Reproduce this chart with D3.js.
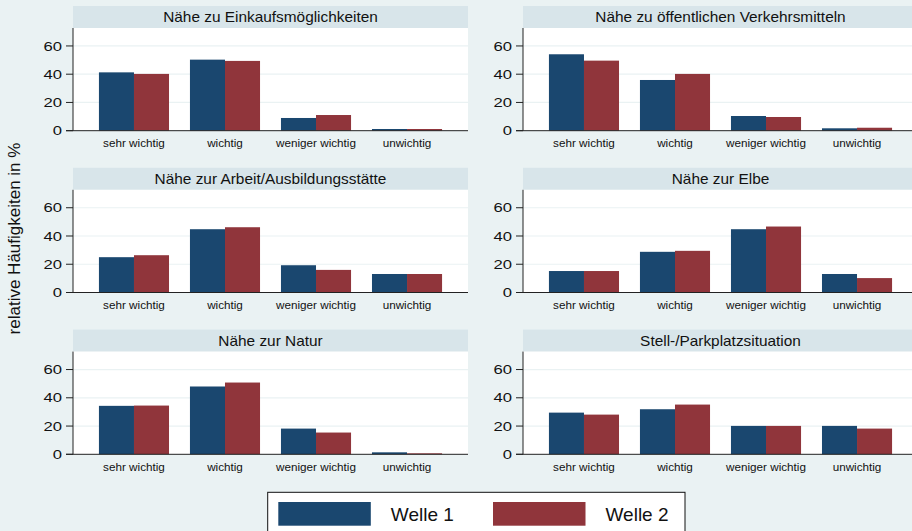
<!DOCTYPE html>
<html>
<head>
<meta charset="utf-8">
<script src="https://cdn.jsdelivr.net/npm/d3@7"></script>
<style>
  html, body { margin: 0; padding: 0; background: #eaf2f3; }
  svg { display: block; font-family: "Liberation Sans", Arial, sans-serif; }
</style>
</head>
<body>
<svg id="chart" width="912" height="531"></svg>
<script>
const categories = ["sehr wichtig", "wichtig", "weniger wichtig", "unwichtig"];
const seriesNames = ["Welle 1", "Welle 2"];
const panelTitles = [
  "Nähe zu Einkaufsmöglichkeiten",
  "Nähe zu öffentlichen Verkehrsmitteln",
  "Nähe zur Arbeit/Ausbildungsstätte",
  "Nähe zur Elbe",
  "Nähe zur Natur",
  "Stell-/Parkplatzsituation"
];
const welle1 = [
  [41.3, 50.3, 9.0, 1.2],
  [54.1, 35.9, 10.4, 1.7],
  [25.0, 44.8, 19.3, 13.1],
  [15.2, 28.8, 44.8, 13.1],
  [34.3, 48.0, 18.2, 1.4],
  [29.5, 31.9, 20.1, 20.1]
];
const welle2 = [
  [40.2, 49.4, 11.1, 1.2],
  [49.6, 40.2, 9.7, 2.1],
  [26.4, 46.2, 16.0, 13.1],
  [15.2, 29.5, 46.7, 10.2],
  [34.5, 50.8, 15.4, 0.7],
  [28.1, 35.2, 20.1, 18.2]
];
const yTicks = [0, 20, 40, 60];
const yTitle = "relative Häufigkeiten in %";

const colors = ["#1a476f", "#90353b"];
const svg = d3.select("#chart");

const colX = [73, 523];
const panelW = 395;
const rowTop0 = 6, rowStep = 161.8;
const bandH = 22, plotH = 102.7;
const yMax = 72.7;

panelTitles.forEach((title, i) => {
  const col = i % 2, row = Math.floor(i / 2);
  const x0 = colX[col];
  const top = rowTop0 + row * rowStep;
  const plotTop = top + bandH;
  const zeroY = plotTop + plotH;

  const g = svg.append("g");

  // subtitle band
  g.append("rect").attr("x", x0).attr("y", top).attr("width", panelW).attr("height", bandH)
    .attr("fill", "#d8e5ea");
  g.append("text")
    .attr("transform", `translate(${x0 + panelW / 2},${top + 16.3}) scale(1.1,1)`)
    .attr("text-anchor", "middle").attr("font-size", 14).attr("fill", "#111")
    .text(title);

  // plot region
  g.append("rect").attr("x", x0).attr("y", plotTop).attr("width", panelW).attr("height", plotH)
    .attr("fill", "#ffffff");

  const y = d3.scaleLinear().domain([0, yMax]).range([zeroY, plotTop]);
  const x = d3.scaleBand().domain(categories).range([x0, x0 + panelW])
    .paddingInner(0.23).paddingOuter(0.285);
  const xs = d3.scaleBand().domain(seriesNames).range([0, x.bandwidth()]).padding(0);

  // gridlines
  g.selectAll("line.grid").data(yTicks.filter(t => t > 0)).join("line")
    .attr("x1", x0).attr("x2", x0 + panelW)
    .attr("y1", d => y(d)).attr("y2", d => y(d))
    .attr("stroke", "#eaf2f3").attr("stroke-width", 1.2);

  // bars
  const vals = [welle1[i], welle2[i]];
  categories.forEach((c, ci) => {
    seriesNames.forEach((s, si) => {
      const v = vals[si][ci];
      g.append("rect")
        .attr("x", x(c) + xs(s))
        .attr("y", y(v))
        .attr("width", xs.bandwidth())
        .attr("height", y(0) - y(v))
        .attr("fill", colors[si]);
    });
  });

  // y axis
  g.append("line").attr("x1", x0).attr("x2", x0).attr("y1", plotTop).attr("y2", zeroY)
    .attr("stroke", "#222").attr("stroke-width", 1);
  g.selectAll("line.tick").data(yTicks).join("line")
    .attr("x1", x0 - 7).attr("x2", x0)
    .attr("y1", d => y(d)).attr("y2", d => y(d))
    .attr("stroke", "#222").attr("stroke-width", 1);
  g.selectAll("text.ytick").data(yTicks).join("text")
    .attr("transform", d => `translate(${x0 - 11},${y(d) + 4.6}) scale(1.28,1)`)
    .attr("text-anchor", "end").attr("font-size", 13).attr("fill", "#111")
    .text(d => d);

  // x axis line
  g.append("line").attr("x1", x0 - 7).attr("x2", x0 + panelW).attr("y1", zeroY).attr("y2", zeroY)
    .attr("stroke", "#222").attr("stroke-width", 1);
  g.selectAll("text.xtick").data(categories).join("text")
    .attr("x", d => x(d) + x.bandwidth() / 2)
    .attr("y", zeroY + 16.5)
    .attr("text-anchor", "middle").attr("font-size", 11.7).attr("fill", "#111")
    .text(d => d);
});

// y title
svg.append("text")
  .attr("transform", "translate(20,238.5) rotate(-90)")
  .attr("text-anchor", "middle").attr("font-size", 17).attr("fill", "#111")
  .text(yTitle);

// legend
const leg = svg.append("g");
leg.append("rect").attr("x", 267.7).attr("y", 492.3).attr("width", 417.3).attr("height", 50)
  .attr("fill", "#fff").attr("stroke", "#111").attr("stroke-width", 1);
const legX = [278.3, 493];
seriesNames.forEach((s, si) => {
  leg.append("rect").attr("x", legX[si]).attr("y", 502).attr("width", 92.5).attr("height", 23.7)
    .attr("fill", colors[si]);
  leg.append("text").attr("x", legX[si] + 112.5).attr("y", 520.5)
    .attr("font-size", 19).attr("fill", "#111").text(s);
});
</script>
</body>
</html>
